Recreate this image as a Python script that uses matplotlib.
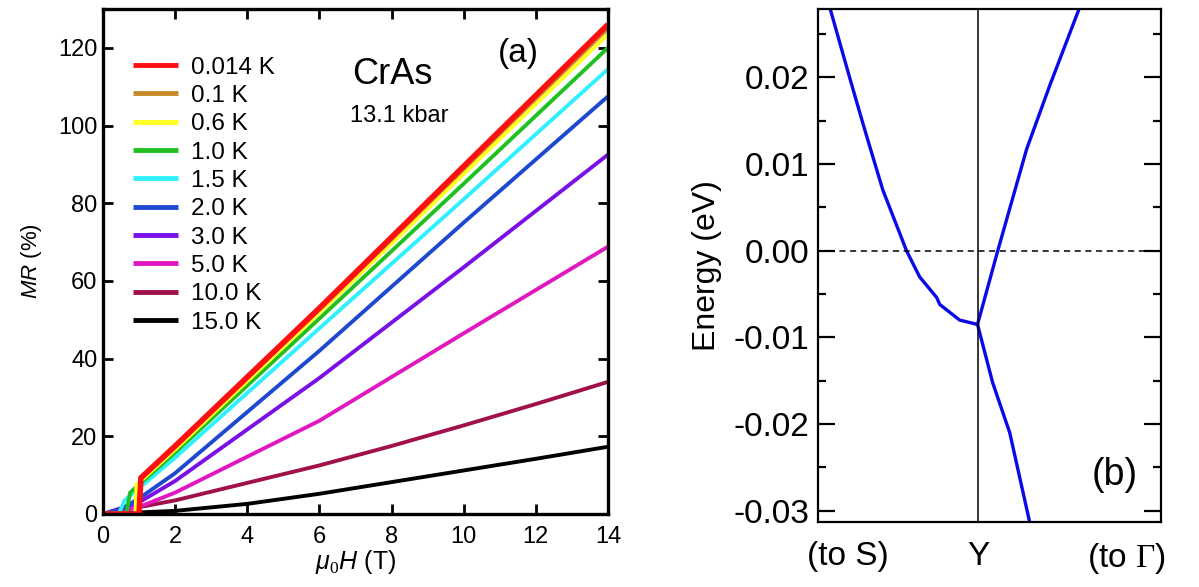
import numpy as np
import matplotlib
matplotlib.use("Agg")
import matplotlib.pyplot as plt
from matplotlib.ticker import MultipleLocator

plt.rcParams['font.family'] = ['Liberation Sans', 'DejaVu Sans']
plt.rcParams['mathtext.fontset'] = 'custom'
plt.rcParams['mathtext.rm'] = 'Liberation Serif'
plt.rcParams['mathtext.it'] = 'Liberation Sans:italic'

# (a) MR vs field, one curve per temperature
temps = ["0.014 K", "0.1 K", "0.6 K", "1.0 K", "1.5 K", "2.0 K", "3.0 K", "5.0 K", "10.0 K", "15.0 K"]
colors = ["#ff1010", "#c8892a", "#ffff20", "#20c020", "#30f0ff", "#1f48d0", "#7a10e8", "#e018c0", "#a0104a", "#000000"]

h_0014 = [0, 1.0, 1.05, 2, 6, 10, 14]
mr_0014 = [0, 0, 9.3, 17.5, 53.0, 89.5, 126.0]
h_01 = [0, 1.0, 1.05, 2, 6, 10, 14]
mr_01 = [0, 0, 9.0, 17.2, 52.6, 88.8, 125.0]
h_06 = [0, 0.9, 0.93, 2, 6, 10, 14]
mr_06 = [0, 0, 7.5, 16.6, 51.8, 87.5, 123.5]
h_10 = [0, 0.65, 0.75, 2, 6, 10, 14]
mr_10 = [0, 0.3, 5.5, 15.8, 50.3, 85.0, 120.0]
h_15 = [0, 0.45, 0.6, 2, 6, 10, 14]
mr_15 = [0, 0.3, 3.5, 14.5, 47.8, 81.0, 114.5]
h_20 = [0, 0.5, 1, 2, 6, 10, 14]
mr_20 = [0, 1.2, 4.0, 10.5, 42.0, 75.0, 107.5]
h_30 = [0, 1, 2, 6, 10, 14]
mr_30 = [0, 3.0, 8.5, 35.0, 63.5, 92.5]
h_50 = [0, 1, 2, 6, 10, 14]
mr_50 = [0, 1.8, 5.5, 24.0, 46.5, 68.8]
h_100 = [0, 2, 4, 6, 8, 10, 12, 14]
mr_100 = [0, 3.5, 8.0, 12.5, 17.5, 22.8, 28.3, 34.0]
h_150 = [0, 2, 4, 6, 8, 10, 12, 14]
mr_150 = [0, 0.8, 2.6, 5.2, 8.2, 11.2, 14.2, 17.3]

fields = [h_0014, h_01, h_06, h_10, h_15, h_20, h_30, h_50, h_100, h_150]
mrs = [mr_0014, mr_01, mr_06, mr_10, mr_15, mr_20, mr_30, mr_50, mr_100, mr_150]

# (b) band near Y point
k_left = [0.030, 0.035, 0.093, 0.131, 0.152, 0.190, 0.259, 0.297, 0.347, 0.356, 0.414, 0.466]
e_left = [0.0300, 0.0281, 0.0200, 0.0148, 0.0120, 0.0070, 0.0, -0.0030, -0.0054, -0.0062, -0.0080, -0.0085]
k_up = [0.466, 0.525, 0.609, 0.676, 0.764, 0.770]
e_up = [-0.0085, 0.0, 0.0117, 0.0190, 0.0281, 0.0290]
k_down = [0.466, 0.510, 0.560, 0.618, 0.625]
e_down = [-0.0085, -0.0152, -0.0210, -0.0313, -0.0325]
k_ticks = [0.087, 0.467, 0.90]
k_labels = ["(to S)", "Y", r"(to $\Gamma$)"]

fig = plt.figure(figsize=(11.99, 5.87), dpi=100)
ax1 = fig.add_axes([0.0859, 0.1244, 0.4211, 0.8603])
ax2 = fig.add_axes([0.682, 0.1107, 0.286, 0.874])

# draw high-T first so the low-T curves sit on top
for h, mr, c, t in reversed(list(zip(fields, mrs, colors, temps))):
    lw = 4.0 if t == "0.014 K" else 2.8
    ax1.plot(h, mr, color=c, lw=lw, label=t, solid_capstyle='butt')

handles, labels = ax1.get_legend_handles_labels()
leg = ax1.legend(handles[::-1], labels[::-1], loc='upper left', bbox_to_anchor=(0.041, 0.925),
                 frameon=False, fontsize=17.5, handlelength=1.85, handletextpad=0.5,
                 labelspacing=0.26, borderaxespad=0)
for line in leg.get_lines():
    line.set_linewidth(3.5)

ax1.set_xlim(0, 14)
ax1.set_ylim(0, 130)
ax1.xaxis.set_major_locator(MultipleLocator(2))
ax1.yaxis.set_major_locator(MultipleLocator(20))
ax1.tick_params(direction='in', top=True, right=True, length=7, width=2, labelsize=17, pad=4)
ax1.tick_params(axis='x', pad=9)
for s in ax1.spines.values():
    s.set_linewidth(2.4)
ax1.set_xlabel(r"$\mathit{\mu_0H}$ (T)", fontsize=18, labelpad=0)
ax1.set_ylabel(r"$\mathit{MR}$ (%)", fontsize=16, labelpad=10)
ax1.text(6.9, 110.7, "CrAs", fontsize=26, ha='left', va='baseline')
ax1.text(6.85, 100.9, "13.1 kbar", fontsize=17, ha='left', va='baseline')
ax1.text(10.95, 116.4, "(a)", fontsize=24, ha='left', va='baseline')

ax2.plot(k_left, e_left, color='#0a0ae6', lw=2.4)
ax2.plot(k_up, e_up, color='#0a0ae6', lw=2.4)
ax2.plot(k_down, e_down, color='#0a0ae6', lw=2.4)
ax2.axvline(k_ticks[1], color='k', lw=1.1)
ax2.axhline(0, color='k', lw=1.1, dashes=(4, 3))
ax2.set_xlim(0, 1)
ax2.set_ylim(-0.0313, 0.0279)
ax2.set_xticks(k_ticks)
ax2.set_xticklabels(k_labels)
ax2.yaxis.set_major_locator(MultipleLocator(0.01))
ax2.yaxis.set_minor_locator(MultipleLocator(0.005))
ax2.yaxis.set_major_formatter(matplotlib.ticker.FormatStrFormatter('%.2f'))
ax2.tick_params(axis='x', length=0, labelsize=24, pad=14)
ax2.tick_params(axis='y', which='major', direction='in', left=True, right=True, length=12, width=1.6, labelsize=24, pad=6)
ax2.tick_params(axis='y', which='minor', direction='in', left=True, right=True, length=6, width=1.6)
for s in ax2.spines.values():
    s.set_linewidth(1.6)
ax2.set_ylabel("Energy (eV)", fontsize=23, labelpad=8)
ax2.text(0.80, -0.0259, "(b)", fontsize=27, ha='left', va='center')

fig.savefig("out.png", dpi=100)
